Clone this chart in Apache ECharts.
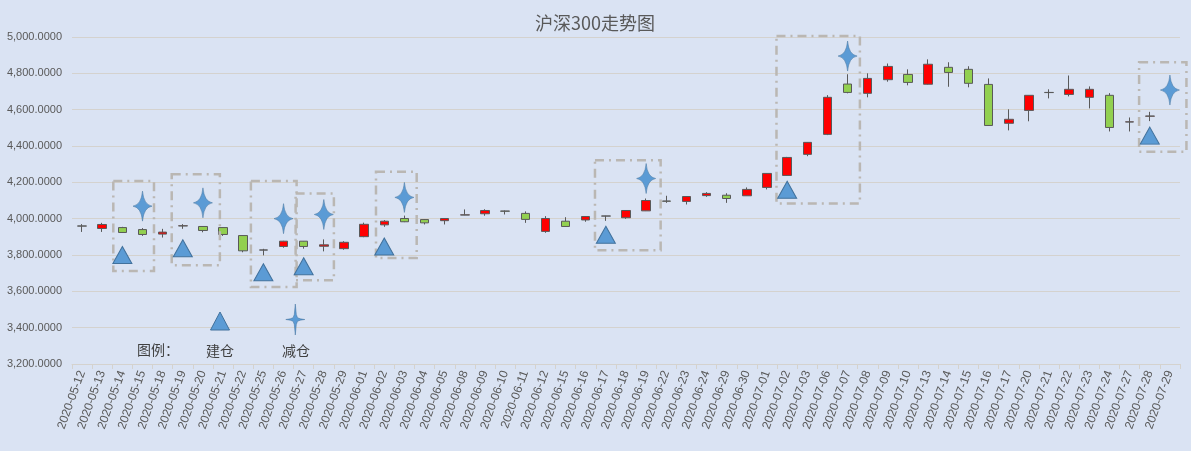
<!DOCTYPE html>
<html>
<head>
<meta charset="utf-8">
<script src="https://cdn.jsdelivr.net/npm/echarts@6/dist/echarts.min.js"></script>
<style>
  html, body { margin: 0; padding: 0; background: #DAE3F3; }
  #main { width: 1191px; height: 451px; }
</style>
</head>
<body>
<div id="main"></div>
<script>
// 日期
var dates = [
  "2020-05-12", "2020-05-13", "2020-05-14", "2020-05-15", "2020-05-18", "2020-05-19", "2020-05-20",
  "2020-05-21", "2020-05-22", "2020-05-25", "2020-05-26", "2020-05-27", "2020-05-28", "2020-05-29",
  "2020-06-01", "2020-06-02", "2020-06-03", "2020-06-04", "2020-06-05", "2020-06-08", "2020-06-09",
  "2020-06-10", "2020-06-11", "2020-06-12", "2020-06-15", "2020-06-16", "2020-06-17", "2020-06-18",
  "2020-06-19", "2020-06-22", "2020-06-23", "2020-06-24", "2020-06-29", "2020-06-30", "2020-07-01",
  "2020-07-02", "2020-07-03", "2020-07-06", "2020-07-07", "2020-07-08", "2020-07-09", "2020-07-10",
  "2020-07-13", "2020-07-14", "2020-07-15", "2020-07-16", "2020-07-17", "2020-07-20", "2020-07-21",
  "2020-07-22", "2020-07-23", "2020-07-24", "2020-07-27", "2020-07-28", "2020-07-29"
]
// 开盘 / 收盘 / 最低 / 最高 (07-29 无数据)
var opens = [3959, 3946, 3951, 3940, 3915, 3960, 3957, 3951, 3907, 3827, 3847, 3876, 3848, 3835,
  3901, 3966, 4001, 3995, 3989, 4020, 4027, 4042, 4029, 3930, 3986, 3993, 4014, 4005, 4043, 4097,
  4095, 4127, 4129, 4126, 4172, 4238, 4354, 4464, 4741, 4690, 4765, 4794, 4740, 4833, 4822, 4739,
  4525, 4596, 4694, 4684, 4668, 4679, 4532, 4564, null]
var closes = [3960, 3968, 3924, 3913, 3926, 3961, 3935, 3913, 3823, 3828, 3876, 3847, 3856, 3870,
  3969, 3986, 3983, 3977, 4001, 4021, 4045, 4041, 3996, 4001, 3957, 4012, 4015, 4045, 4100, 4096,
  4122, 4139, 4111, 4161, 4249, 4337, 4420, 4668, 4695, 4772, 4838, 4750, 4850, 4805, 4745, 4513,
  4547, 4679, 4695, 4712, 4712, 4502, 4533, 4565, null]
var lows = [3927, 3927, 3922, 3905, 3896, 3944, 3925, 3905, 3815, 3798, 3840, 3835, 3820, 3829,
  3898, 3955, 3981, 3968, 3968, 4019, 4016, 4023, 3977, 3922, 3956, 3983, 3988, 3999, 4042, 4087,
  4078, 4120, 4087, 4125, 4161, 4235, 4344, 4460, 4690, 4668, 4754, 4734, 4738, 4726, 4723, 4512,
  4486, 4536, 4662, 4673, 4607, 4480, 4480, 4537, null]
var highs = [3970, 3977, 3955, 3948, 3944, 3970, 3958, 3952, 3908, 3834, 3878, 3877, 3886, 3876,
  3978, 3992, 4017, 3997, 4002, 4051, 4052, 4045, 4040, 4014, 4008, 4013, 4016, 4046, 4111, 4126,
  4123, 4146, 4140, 4172, 4250, 4340, 4422, 4680, 4795, 4800, 4854, 4822, 4877, 4861, 4839, 4772,
  4602, 4680, 4712, 4788, 4728, 4691, 4557, 4588, null]
// 建仓 / 减仓 标记 [日期序号, 点位]
var buyPoints = [[2, 3800], [5, 3837], [9, 3705], [11, 3738], [15, 3847], [26, 3911], [35, 4159], [53, 4457]]
var sellPoints = [[3, 4069], [6, 4087], [10, 4000], [12, 4023], [16, 4117], [28, 4221], [38, 4895], [54, 4708]]
// 虚线框 [起始序号, 结束序号, 下沿, 上沿]
var boxes = [
  [1.55, 3.57, 3712, 4208], [4.45, 6.84, 3744, 4244], [8.38, 10.65, 3624, 4208],
  [10.60, 12.50, 3661, 4139], [14.59, 16.61, 3784, 4258], [25.46, 28.72, 3826, 4322],
  [34.47, 38.61, 4084, 5006], [52.47, 54.82, 4368, 4861]
]
var yTicks = { min: 3200, max: 5000, step: 200 }

var starPath = "path://M10,0 Q11.3,13.7 20,15 Q11.3,16.3 10,30 Q8.7,16.3 0,15 Q8.7,13.7 10,0 Z"
var blue = "#5B9BD5", blueEdge = "#41719C"

// 图例里的星形(多边形近似)
var starPts = [[0, -15.5], [1, -5], [2.2, -1.8], [5, -0.7], [9.5, 0], [5, 0.7], [2.2, 1.8], [1, 5],
  [0, 15.5], [-1, 5], [-2.2, 1.8], [-5, 0.7], [-9.5, 0], [-5, -0.7], [-2.2, -1.8], [-1, -5]]

var kData = dates.map(function (d, i) {
  if (opens[i] == null) return "-"
  return [opens[i], closes[i], lows[i], highs[i]]
})

var chart = echarts.init(document.getElementById("main"))
var option = {
  backgroundColor: "#DAE3F3",
  animation: false,
  title: {
    text: "沪深300走势图",
    left: 530,
    top: 9,
    textStyle: { color: "#595959", fontSize: 18, fontWeight: "normal", fontFamily: "Noto Sans CJK SC" }
  },
  grid: { left: 72, right: 11, top: 37, bottom: 87 },
  xAxis: {
    type: "category",
    data: dates,
    boundaryGap: true,
    axisLine: { lineStyle: { color: "#D4D2CE" } },
    axisTick: { show: true, length: 5, lineStyle: { color: "#D4D2CE" } },
    axisLabel: { rotate: 70, interval: 0, color: "#595959", fontSize: 12, margin: 7, fontFamily: "Liberation Sans" }
  },
  yAxis: {
    type: "value",
    min: yTicks.min,
    max: yTicks.max,
    interval: yTicks.step,
    axisLine: { show: false },
    axisTick: { show: false },
    splitLine: { lineStyle: { color: "#D4D2CE" } },
    axisLabel: {
      color: "#595959", fontSize: 11, margin: 10, fontFamily: "Liberation Sans",
      formatter: function (v) {
        return v.toLocaleString("en-US", { minimumFractionDigits: 4, maximumFractionDigits: 4 })
      }
    }
  },
  graphic: [
    { type: "text", z: 100, x: 158, y: 350, style: { text: "图例：", fill: "#404040", font: "14px 'Noto Sans CJK SC'", textAlign: "center", textVerticalAlign: "middle" } },
    { type: "text", z: 100, x: 220, y: 351, style: { text: "建仓", fill: "#404040", font: "14px 'Noto Sans CJK SC'", textAlign: "center", textVerticalAlign: "middle" } },
    { type: "text", z: 100, x: 296, y: 351, style: { text: "减仓", fill: "#404040", font: "14px 'Noto Sans CJK SC'", textAlign: "center", textVerticalAlign: "middle" } },
    { type: "polygon", z: 100, shape: { points: [[220, 312], [229.5, 330], [210.5, 330]] },
      style: { fill: blue, stroke: blueEdge, lineWidth: 1 } },
    { type: "polygon", z: 100, x: 295.3, y: 319.5, shape: { points: starPts },
      style: { fill: blue, stroke: blueEdge, lineWidth: 0.5 } }
  ],
  series: [
    {
      type: "candlestick",
      data: kData,
      barWidth: 9,
      itemStyle: {
        color: "#FF0000",
        color0: "#92D050",
        borderColor: "#595959",
        borderColor0: "#595959",
        borderWidth: 1
      },
      z: 2
    },
    {
      type: "custom",
      data: boxes.map(function (b) { return [Math.round(b[0]), b[2], b[3], b[0], b[1]] }),
      encode: { x: 0, y: [1, 2] },
      renderItem: function (params, api) {
        var bw = api.size([1, 0])[0]
        var base = api.coord([0, api.value(1)])
        var x0 = base[0] + api.value(3) * bw
        var x1 = base[0] + api.value(4) * bw
        var yBottom = base[1]
        var yTop = api.coord([0, api.value(2)])[1]
        return {
          type: "rect",
          shape: { x: x0, y: yTop, width: x1 - x0, height: yBottom - yTop },
          style: { fill: "none", stroke: "#BAB7B3", lineWidth: 2.5, lineDash: [9, 5, 2, 5] }
        }
      },
      silent: true,
      z: 3
    },
    {
      name: "建仓",
      type: "scatter",
      data: buyPoints,
      symbol: "triangle",
      symbolSize: [19, 17],
      itemStyle: { color: blue, borderColor: blueEdge, borderWidth: 1, opacity: 1 },
      z: 4
    },
    {
      name: "减仓",
      type: "scatter",
      data: sellPoints,
      symbol: starPath,
      symbolSize: [19, 30],
      itemStyle: { color: blue, borderColor: blueEdge, borderWidth: 0.5, opacity: 1 },
      z: 4
    }
  ]
}
chart.setOption(option)
</script>
</body>
</html>
